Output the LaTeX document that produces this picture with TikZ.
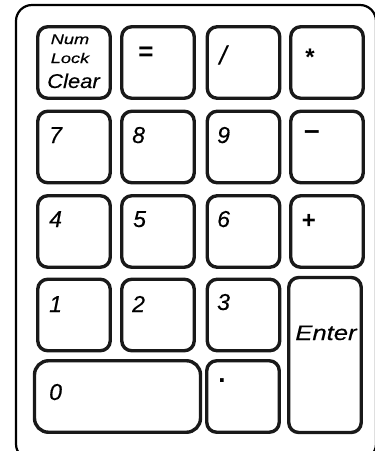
\documentclass[tikz,border=0pt]{standalone}
\usepackage{fontspec}
\usepackage{graphicx}
\setmainfont{Liberation Sans}
\newfontfamily\kf{Liberation Sans}[ItalicFeatures={FakeBold=0.35}]
\begin{document}
\begin{tikzpicture}[x=1pt,y=-1pt,
  key/.style={draw=black!90, line width=3.4pt, rounded corners=10pt, fill=white, minimum width=72.5pt, minimum height=71.5pt, inner sep=0pt},
  lbl/.style={anchor=base west, inner sep=0pt, font=\fontsize{23}{23}\selectfont\kf\itshape},
  sym/.style={anchor=center, inner sep=0pt, font=\fontsize{24}{24}\selectfont\bfseries}]
\useasboundingbox (0,0) rectangle (375,451);
\clip (0,0) rectangle (375,451);
% outer frame
\draw[line width=2.2pt, rounded corners=16pt] (16,5) rectangle (376,460);
% row 1
\node[key] (knum) at (74,62.5) {};
\node[key] (keq) at (158,62.5) {};
\node[key] (kdiv) at (243.5,62.5) {};
\node[key] (kmul) at (327,62.5) {};
% row 2
\node[key] (k7) at (74,147) {};
\node[key] (k8) at (158,147) {};
\node[key] (k9) at (243.5,147) {};
\node[key] (kmin) at (327,147) {};
% row 3
\node[key] (k4) at (74,231.5) {};
\node[key] (k5) at (158,231.5) {};
\node[key] (k6) at (243.5,231.5) {};
\node[key] (kplus) at (327,231.5) {};
% row 4
\node[key] (k1) at (74,315) {};
\node[key] (k2) at (158,315) {};
\node[key] (k3) at (243.5,315) {};
\node[key, minimum height=155pt] (kent) at (325,355) {};
% row 5
\node[key, minimum width=166pt, rounded corners=14pt] (k0) at (117.5,396.5) {};
\node[key] (kdot) at (243,396.5) {};
% labels
\node[anchor=base, inner sep=0pt, font=\fontsize{14}{14}\selectfont\kf\itshape] (tnum) at (70,44) {\scalebox{1.3}[1]{Num}};
\node[anchor=base, inner sep=0pt, font=\fontsize{14}{14}\selectfont\kf\itshape] (tlock) at (70,63) {\scalebox{1.3}[1]{Lock}};
\node[anchor=base, inner sep=0pt, font=\fontsize{20}{20}\selectfont\kf\itshape] (tclear) at (73.5,88) {\scalebox{1.1}[1]{Clear}};
\node[sym, font=\fontsize{26}{26}\selectfont\bfseries] (teq) at (146,54) {=};
\node[sym, font=\fontsize{26}{26}\selectfont\kf\itshape] (tdiv) at (223,55) {/};
\node[sym] (tmul) at (310,57) {*};
\node[lbl] (t7) at (49,143) {7};
\node[lbl] (t8) at (132,143) {8};
\node[lbl] (t9) at (217,143) {9};
\node[sym, font=\fontsize{28}{28}\selectfont\bfseries] (tmin) at (312,135) {–};
\node[lbl] (t4) at (49,227) {4};
\node[lbl] (t5) at (133,227) {5};
\node[lbl] (t6) at (217,227) {6};
\node[sym] (tplus) at (309,221) {+};
\node[lbl] (t1) at (49,312) {1};
\node[lbl] (t2) at (132,312) {2};
\node[lbl] (t3) at (217,310) {3};
\node[lbl] (t0) at (49,400) {0};
\node[sym, font=\fontsize{26}{26}\selectfont\bfseries] (tdot) at (222,381) {.};
\node[anchor=base, inner sep=0pt, font=\fontsize{21}{21}\selectfont\kf\itshape] (tent) at (326,340) {\scalebox{1.22}[1]{Enter}};
\end{tikzpicture}
\end{document}
